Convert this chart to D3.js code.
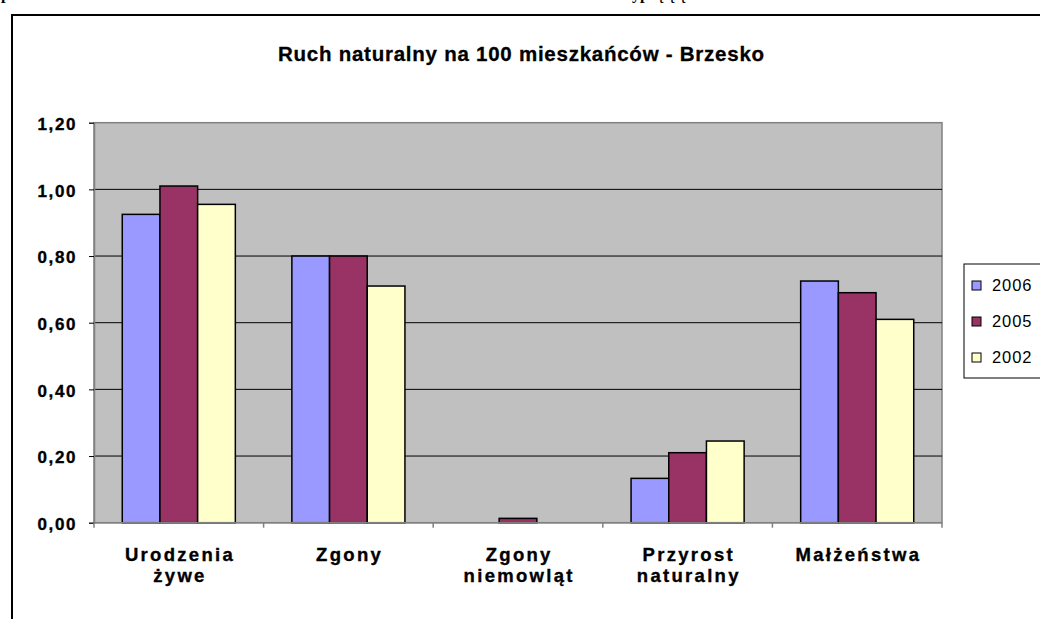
<!DOCTYPE html>
<html>
<head>
<meta charset="utf-8">
<script src="https://cdn.jsdelivr.net/npm/d3@7"></script>
<style>
  body { margin: 0; background: #fff; }
  svg { display: block; }
</style>
</head>
<body>
<svg id="chart" width="1040" height="619"></svg>
<script>
// data
const categories = ['Urodzenia żywe', 'Zgony', 'Zgony niemowląt', 'Przyrost naturalny', 'Małżeństwa']
const catLines = [['Urodzenia', 'żywe'], ['Zgony'], ['Zgony', 'niemowląt'], ['Przyrost', 'naturalny'], ['Małżeństwa']]
const seriesNames = ['2006', '2005', '2002']
const v2006 = [0.925, 0.80, 0, 0.133, 0.725]
const v2005 = [1.01, 0.80, 0.013, 0.21, 0.69]
const v2002 = [0.955, 0.71, 0, 0.245, 0.61]
const yTicks = [0, 0.2, 0.4, 0.6, 0.8, 1.0, 1.2]
const colors = ['#9999FF', '#993366', '#FFFFCC']

const seriesVals = [v2006, v2005, v2002]
const svg = d3.select('#chart')
const margin = { top: 122.7, left: 94, right: 98, bottom: 96.3 }
const width = 1040, height = 619
const innerW = width - margin.left - margin.right
const innerH = height - margin.top - margin.bottom

svg.append('rect').attr('width', width).attr('height', height).attr('fill', '#fff')

// cut-off page text above the chart (only descenders show, as in the original)
svg.append('text').attr('x', 1).attr('y', -1)
  .style('font', 'bold 16px "Liberation Serif", serif').text('p')
svg.append('text').attr('x', 632).attr('y', -1)
  .attr('xml:space', 'preserve')
  .style('font', 'bold 16px "Liberation Serif", serif').text('yp  ę ę ę')

// chart area border (left + top visible)
svg.append('path')
  .attr('d', `M12,${height} L12,15 L${width},15`)
  .attr('fill', 'none').attr('stroke', '#000').attr('stroke-width', 2)

const g = svg.append('g').attr('transform', `translate(${margin.left},${margin.top})`)

const x0 = d3.scaleBand().domain(categories).range([0, innerW]).padding(0)
const x1 = d3.scaleBand().domain(seriesNames)
  .range([x0.bandwidth() / 6, x0.bandwidth() * 5 / 6]).padding(0)
const y = d3.scaleLinear().domain([0, 1.2]).range([innerH, 0])

// plot area
g.append('rect').attr('width', innerW).attr('height', innerH)
  .attr('fill', '#C0C0C0').attr('stroke', '#808080').attr('stroke-width', 1.5)

g.selectAll('.grid').data(yTicks.filter(t => t > 0 && t < 1.2)).join('line')
  .attr('x1', 0).attr('x2', innerW)
  .attr('y1', d => y(d)).attr('y2', d => y(d))
  .attr('stroke', '#000').attr('stroke-width', 1)

// bars
const groups = g.selectAll('.cat').data(categories).join('g')
  .attr('transform', d => `translate(${x0(d)},0)`)

groups.selectAll('rect')
  .data((c, i) => seriesNames.map((s, j) => ({ s, j, v: seriesVals[j][i] })).filter(d => d.v > 0))
  .join('rect')
  .attr('x', d => x1(d.s))
  .attr('width', x1.bandwidth())
  .attr('y', d => y(d.v))
  .attr('height', d => y(0) - y(d.v))
  .attr('fill', d => colors[d.j])
  .attr('stroke', '#000').attr('stroke-width', 1.5)

// y axis
const yAxis = d3.axisLeft(y).tickValues(yTicks).tickSize(5)
  .tickFormat(d => d3.format('.2f')(d).replace('.', ','))
const ya = g.append('g').call(yAxis)
ya.select('.domain').attr('stroke', '#808080').attr('stroke-width', 1.5)
ya.selectAll('.tick line').attr('stroke', '#000')
ya.selectAll('.tick text')
  .attr('x', -17).attr('dy', '0.4em')
  .style('font', 'bold 17px "Liberation Sans", Arial, sans-serif')
  .style('letter-spacing', '1.6px')
  .attr('fill', '#000').attr('stroke', '#000').attr('stroke-width', 0.35)

// x axis
const xa = g.append('g').attr('transform', `translate(0,${innerH})`)
xa.append('line').attr('x1', 0).attr('x2', innerW)
  .attr('stroke', '#808080').attr('stroke-width', 1.5)
xa.selectAll('.xt').data(d3.range(categories.length + 1)).join('line')
  .attr('x1', i => i * x0.step()).attr('x2', i => i * x0.step())
  .attr('y1', 0).attr('y2', 5)
  .attr('stroke', '#808080').attr('stroke-width', 1.5)

xa.selectAll('.xl').data(categories).join('text')
  .attr('x', d => x0(d) + x0.bandwidth() / 2 + 1.2)
  .attr('y', 38.5)
  .attr('text-anchor', 'middle')
  .style('font', 'bold 18.5px "Liberation Sans", Arial, sans-serif')
  .style('letter-spacing', '2.3px')
  .attr('stroke', '#000').attr('stroke-width', 0.35)
  .selectAll('tspan').data((d, i) => catLines[i]).join('tspan')
  .attr('x', function () { return this.parentNode.getAttribute('x') })
  .attr('dy', (d, i) => i === 0 ? 0 : 21)
  .text(d => d)

// title
svg.append('text')
  .attr('x', 521.4).attr('y', 60.5)
  .attr('text-anchor', 'middle')
  .style('font', 'bold 20.5px "Liberation Sans", Arial, sans-serif')
  .style('letter-spacing', '0.75px')
  .attr('stroke', '#000').attr('stroke-width', 0.3)
  .text('Ruch naturalny na 100 mieszkańców - Brzesko')

// legend
const lg = svg.append('g').attr('transform', 'translate(964,264)')
lg.append('rect').attr('x', 0).attr('y', 0).attr('width', 100).attr('height', 114)
  .attr('fill', '#fff').attr('stroke', '#000').attr('stroke-width', 1)
const li = lg.selectAll('.li').data(seriesNames).join('g')
  .attr('transform', (d, i) => `translate(8,${21.5 + i * 36})`)
li.append('rect').attr('x', 0).attr('y', -4.5).attr('width', 9).attr('height', 9)
  .attr('fill', (d, i) => colors[i]).attr('stroke', '#000').attr('stroke-width', 1)
li.append('text').attr('x', 20).attr('y', 0).attr('dy', '0.36em')
  .style('font', '16.5px "Liberation Sans", Arial, sans-serif')
  .style('letter-spacing', '0.9px')
  .text(d => d)
</script>
</body>
</html>
